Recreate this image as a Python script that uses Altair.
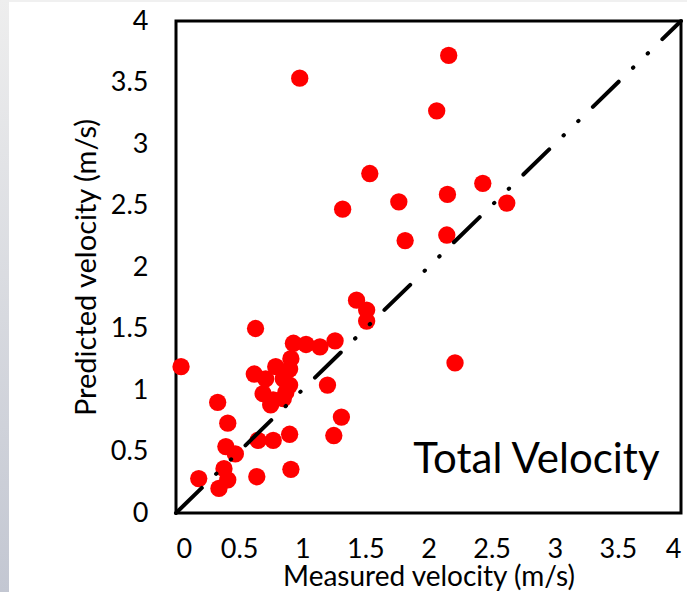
import altair as alt
import pandas as pd

measured = [0.04, 0.63, 0.33, 0.41, 0.395, 0.47, 0.18, 0.38, 0.41, 0.34,
            0.64, 0.91, 0.65, 0.77, 0.90, 1.25, 1.31, 1.20, 0.62, 0.93,
            1.03, 1.14, 1.26, 0.91, 0.90, 0.79, 0.71, 0.85, 0.90, 0.69,
            0.77, 0.85, 0.87, 0.75, 1.43, 1.51, 1.51, 0.98, 2.16, 2.065,
            1.535, 1.32, 1.765, 2.15, 2.43, 2.62, 1.815, 2.145, 2.21]
predicted = [1.19, 1.50, 0.90, 0.73, 0.54, 0.48, 0.28, 0.36, 0.27, 0.20,
             0.295, 0.355, 0.59, 0.59, 0.64, 0.63, 0.78, 1.04, 1.13, 1.38,
             1.37, 1.35, 1.40, 1.255, 1.17, 1.19, 1.09, 1.09, 1.04, 0.97,
             0.92, 0.93, 0.98, 0.88, 1.73, 1.65, 1.56, 3.535, 3.72, 3.27,
             2.76, 2.47, 2.53, 2.59, 2.68, 2.52, 2.215, 2.26, 1.22]
line_x = [0, 4]
line_y = [0, 4]
ticks = [0, 0.5, 1, 1.5, 2, 2.5, 3, 3.5, 4]
label_text = ["Total Velocity"]
label_x = [2.855]
label_y = [0.325]

pts = pd.DataFrame({"m": measured, "p": predicted})
ln = pd.DataFrame({"m": line_x, "p": line_y})
lab = pd.DataFrame({"t": label_text, "m": label_x, "p": label_y})

FONT = "Lato"
xs = alt.Scale(domain=[0, 4], nice=False)
ys = alt.Scale(domain=[0, 4], nice=False)

xaxis = alt.Axis(values=ticks, format="~g", ticks=False, domain=False, grid=False,
                 labelFont=FONT, labelFontSize=27, labelColor="black", labelPadding=23,
                 title="Measured velocity (m/s)", titleFont=FONT, titleFontSize=28,
                 titleFontWeight="normal", titleColor="black", titlePadding=1)
yaxis = alt.Axis(values=ticks, format="~g", ticks=False, domain=False, grid=False,
                 labelFont=FONT, labelFontSize=27, labelColor="black", labelPadding=28,
                 title="Predicted velocity (m/s)", titleFont=FONT, titleFontSize=29,
                 titleFontWeight="normal", titleColor="black", titlePadding=9)

strip = alt.Chart(alt.Data(values=[{}])).mark_rect(
    clip=False,
    color=alt.Gradient(gradient="linear", x1=0, y1=0, x2=0, y2=1,
                       stops=[alt.GradientStop(color="#eeeeee", offset=0),
                              alt.GradientStop(color="#c3c7d2", offset=1)])
).encode(x=alt.value(-176), x2=alt.value(-167), y=alt.value(-21), y2=alt.value(571))

topstrip = alt.Chart(alt.Data(values=[{}])).mark_rect(clip=False, color="#f0f0f0").encode(
    x=alt.value(-167), x2=alt.value(511), y=alt.value(-21), y2=alt.value(-19))

points = alt.Chart(pts).mark_circle(color="#ff0000", opacity=1, size=300).encode(
    x=alt.X("m:Q", scale=xs, axis=xaxis),
    y=alt.Y("p:Q", scale=ys, axis=yaxis),
)

diag = alt.Chart(ln).mark_line(color="black", strokeWidth=4, strokeCap="round",
                               strokeDash=[36, 20, 0.5, 20, 0.5, 20]).encode(
    x=alt.X("m:Q", scale=xs), y=alt.Y("p:Q", scale=ys))

text = alt.Chart(lab).mark_text(font=FONT, fontSize=42, color="black",
                                align="center", baseline="alphabetic").encode(
    x=alt.X("m:Q", scale=xs), y=alt.Y("p:Q", scale=ys), text="t:N")

chart = alt.layer(strip, topstrip, points, diag, text).properties(
    width=505, height=492,
    autosize=alt.AutoSizeParams(type="none"),
    padding={"left": 176, "top": 21, "right": 6, "bottom": 79},
    background="white",
).configure_view(stroke="black", strokeWidth=3)

chart.save("out.html", embed_options={"renderer": "svg", "actions": False})
